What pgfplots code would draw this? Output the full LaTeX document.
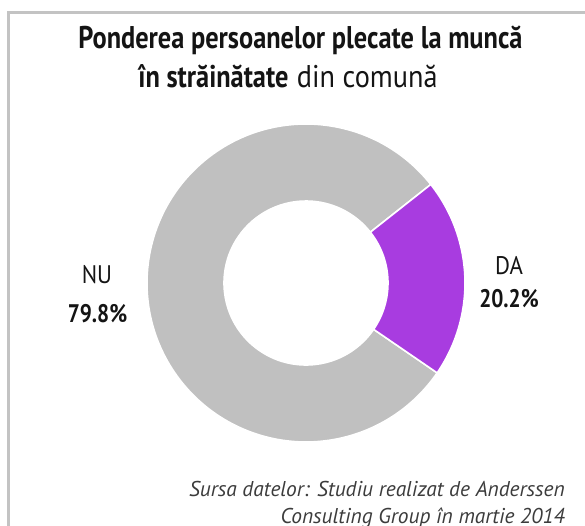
\documentclass[border=0pt]{standalone}
\usepackage{pgfplots}
\usepackage{pgfplotstable}
\pgfplotsset{compat=1.18}
\usetikzlibrary{calc}
\usepackage{fontspec}
\setmainfont{PT Sans}
\newfontfamily\narrow[FakeStretch=0.84]{PT Sans}
\newfontfamily\narrowreg[FakeStretch=0.90]{PT Sans}
\definecolor{nucol}{RGB}{192,192,192}
\definecolor{dacol}{RGB}{168,60,224}
\definecolor{txt}{RGB}{20,20,20}
\definecolor{srccol}{RGB}{60,60,60}
\definecolor{framecol}{RGB}{195,195,195}
\pgfplotstableread{
label value
DA 20.2
NU 79.8
}\piedata
\begin{document}
\begin{tikzpicture}
\useasboundingbox (0,0) rectangle (585bp,526bp);
\begin{axis}[
  x=1bp, y=1bp, xmin=0, xmax=585, ymin=0, ymax=526,
  hide axis, clip=false, at={(0,0)}, anchor=origin,
]
\pgfplotstablegetelem{0}{value}\of\piedata \let\vDA\pgfplotsretval
\pgfplotstablegetelem{1}{value}\of\piedata \let\vNU\pgfplotsretval
\pgfmathsetmacro{\aStart}{38.3}
\pgfmathsetmacro{\aEnd}{\aStart-3.6*\vDA}
\pgfmathsetmacro{\aNU}{\aStart+3.6*\vNU}
% frame
\draw[framecol, line width=2.6bp] (axis cs:8.5,-20) -- (axis cs:8.5,513.2) -- (axis cs:620,513.2);
% NU slice
\fill[nucol, draw=white, line width=1.6bp]
  ($(axis cs:306,243)+(\aStart:159bp)$) arc[start angle=\aStart, end angle=\aNU, radius=159bp]
  -- ($(axis cs:306,243)+(\aNU:82bp)$) arc[start angle=\aNU, end angle=\aStart, radius=82bp] -- cycle;
% DA slice
\fill[dacol, draw=white, line width=1.6bp]
  ($(axis cs:306,243)+(\aEnd:159bp)$) arc[start angle=\aEnd, end angle=\aStart, radius=159bp]
  -- ($(axis cs:306,243)+(\aStart:82bp)$) arc[start angle=\aStart, end angle=\aEnd, radius=82bp] -- cycle;
% title
\node[anchor=base, text=txt, font=\narrow\bfseries\fontsize{31.5}{34}\selectfont, inner sep=0pt] at (axis cs:300.5,477) {Ponderea persoanelor plecate la muncă};
\node[anchor=base, text=txt, font=\fontsize{31.5}{34}\selectfont, inner sep=0pt] at (axis cs:288,438) {{\narrow\bfseries în străinătate} {\narrowreg din comună}};
% labels
\node[anchor=base, text=txt, font=\narrowreg\fontsize{25.5}{28}\selectfont, inner sep=0pt] at (axis cs:97,243) {NU};
\node[anchor=base, text=txt, font=\narrow\bfseries\fontsize{25.5}{28}\selectfont, inner sep=0pt] at (axis cs:97.5,204) {79.8\%};
\node[anchor=base, text=txt, font=\narrowreg\fontsize{25.5}{28}\selectfont, inner sep=0pt] at (axis cs:509,252) {DA};
\node[anchor=base, text=txt, font=\narrow\bfseries\fontsize{25.5}{28}\selectfont, inner sep=0pt] at (axis cs:509,219) {20.2\%};
% source
\node[anchor=base east, text=srccol, font=\itshape\fontsize{21.5}{24}\selectfont, inner sep=0pt] at (axis cs:565,30) {Sursa datelor: Studiu realizat de Anderssen};
\node[anchor=base east, text=srccol, font=\itshape\fontsize{21.5}{24}\selectfont, inner sep=0pt] at (axis cs:565,3) {Consulting Group în martie 2014};
\end{axis}
\end{tikzpicture}
\end{document}
